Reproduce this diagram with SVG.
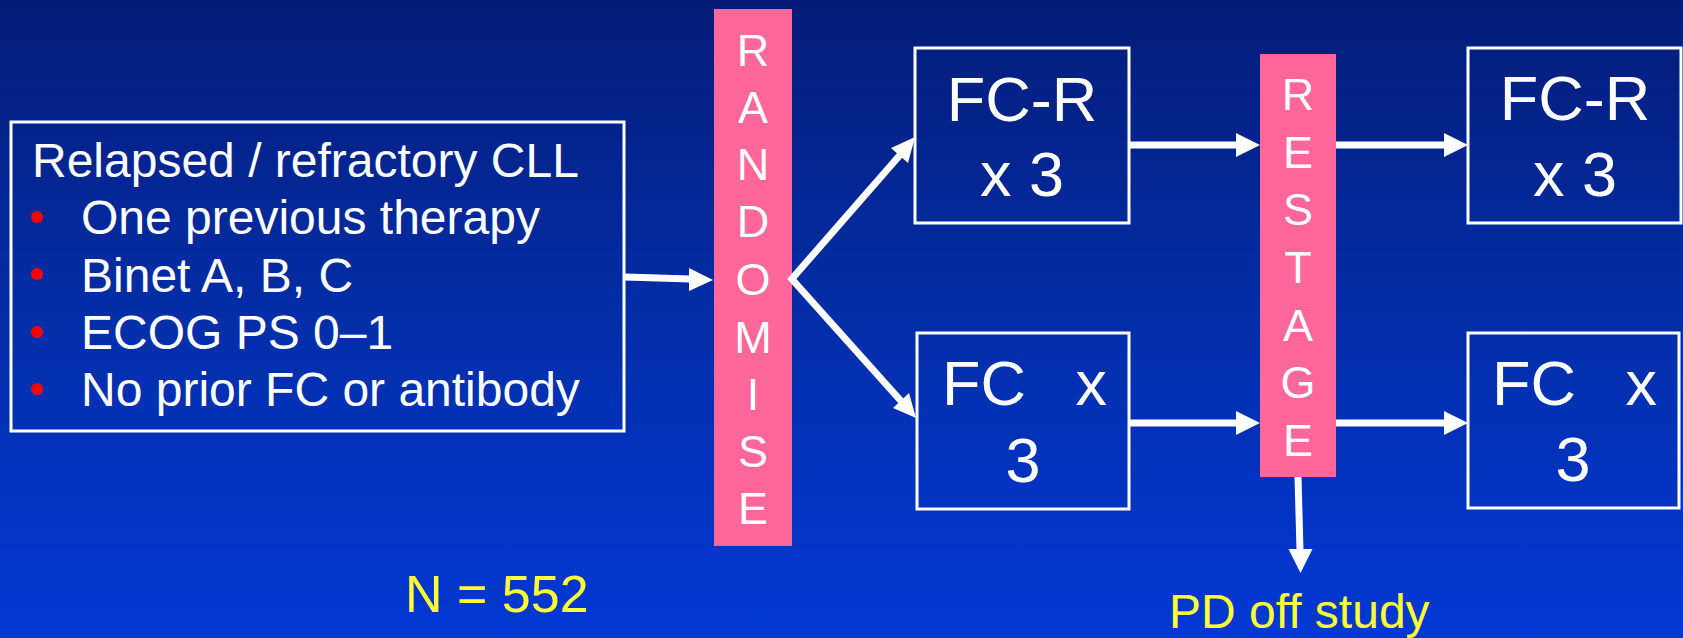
<svg xmlns="http://www.w3.org/2000/svg" width="1683" height="638" viewBox="0 0 1683 638">
<defs>
<linearGradient id="bg" x1="0" y1="0" x2="0" y2="1">
<stop offset="0" stop-color="#041c78"/>
<stop offset="0.5" stop-color="#032ea8"/>
<stop offset="1" stop-color="#0238d4"/>
</linearGradient>
<style>
.box{fill:none;stroke:#ffffff;stroke-width:3}
.bar{fill:#ff6699}
.t{font-family:"Liberation Sans",Arial,sans-serif;fill:#ffffff}
.big{font-size:63px}
.mid{font-size:48px}
.let{font-size:45px;text-anchor:middle}
.y{fill:#ffff33}
.ln{stroke:#ffffff;stroke-width:7;fill:none}
.hd{fill:#ffffff}
</style>
</defs>
<rect x="0" y="0" width="1683" height="638" fill="url(#bg)"/>

<g id="criteria">
<rect class="box" x="11" y="122" width="613" height="309"/>
<text class="t mid" x="32" y="177">Relapsed / refractory CLL</text>
<circle cx="37" cy="217" r="6" fill="#ff0000"/>
<circle cx="37" cy="274" r="6" fill="#ff0000"/>
<circle cx="37" cy="332" r="6" fill="#ff0000"/>
<circle cx="37" cy="389" r="6" fill="#ff0000"/>
<text class="t mid" x="81" y="234">One previous therapy</text>
<text class="t mid" x="81" y="292">Binet A, B, C</text>
<text class="t mid" x="81" y="349">ECOG PS 0–1</text>
<text class="t mid" x="81" y="406">No prior FC or antibody</text>
</g>

<g id="randomise">
<rect class="bar" x="714" y="9" width="78" height="537"/>
<text class="t let" x="753" y="66">R</text>
<text class="t let" x="753" y="123">A</text>
<text class="t let" x="753" y="180">N</text>
<text class="t let" x="753" y="237">D</text>
<text class="t let" x="753" y="295">O</text>
<text class="t let" x="753" y="353">M</text>
<text class="t let" x="753" y="410">I</text>
<text class="t let" x="753" y="467">S</text>
<text class="t let" x="753" y="524">E</text>
</g>

<g id="fcr1">
<rect class="box" x="915" y="48" width="214" height="175"/>
<text class="t big" x="1022" y="121" text-anchor="middle">FC-R</text>
<text class="t big" x="1022" y="196" text-anchor="middle">x 3</text>
</g>

<g id="fc1">
<rect class="box" x="917" y="333" width="212" height="176"/>
<text class="t big" y="405"><tspan x="942">FC</tspan><tspan x="1107" text-anchor="end">x</tspan></text>
<text class="t big" x="1023" y="482" text-anchor="middle">3</text>
</g>

<g id="restage">
<rect class="bar" x="1260" y="54" width="76" height="423"/>
<text class="t let" x="1298" y="110">R</text>
<text class="t let" x="1298" y="168">E</text>
<text class="t let" x="1298" y="225">S</text>
<text class="t let" x="1298" y="283">T</text>
<text class="t let" x="1298" y="341">A</text>
<text class="t let" x="1298" y="398">G</text>
<text class="t let" x="1298" y="456">E</text>
</g>

<g id="fcr2">
<rect class="box" x="1468" y="48" width="213" height="175"/>
<text class="t big" x="1575" y="120" text-anchor="middle">FC-R</text>
<text class="t big" x="1575" y="196" text-anchor="middle">x 3</text>
</g>

<g id="fc2">
<rect class="box" x="1468" y="333" width="211" height="175"/>
<text class="t big" y="405"><tspan x="1492">FC</tspan><tspan x="1657" text-anchor="end">x</tspan></text>
<text class="t big" x="1573" y="481" text-anchor="middle">3</text>
</g>

<g id="labels">
<text class="t y" x="405" y="612" font-size="52">N = 552</text>
<text class="t y mid" x="1169" y="628">PD off study</text>
</g>

<g id="connectors">
<line class="ln" x1="625" y1="277" x2="690" y2="279"/>
<polygon class="hd" points="713,280 689,268 689,291"/>

<line class="ln" x1="790" y1="281" x2="900" y2="155"/>
<polygon class="hd" points="915,137 891,148 908,163"/>

<line class="ln" x1="790" y1="277" x2="901" y2="401"/>
<polygon class="hd" points="916,418 893,408 909,393"/>

<line class="ln" x1="1129" y1="145" x2="1237" y2="145"/>
<polygon class="hd" points="1260,145 1236,133 1236,157"/>
<line class="ln" x1="1336" y1="145" x2="1445" y2="145"/>
<polygon class="hd" points="1468,145 1444,133 1444,157"/>

<line class="ln" x1="1129" y1="423" x2="1237" y2="423"/>
<polygon class="hd" points="1260,423 1236,411 1236,435"/>
<line class="ln" x1="1336" y1="423" x2="1445" y2="423"/>
<polygon class="hd" points="1468,423 1444,411 1444,435"/>

<line class="ln" x1="1298" y1="477" x2="1300" y2="550"/>
<polygon class="hd" points="1300.5,573 1288.5,549 1312.5,549"/>
</g>
</svg>
